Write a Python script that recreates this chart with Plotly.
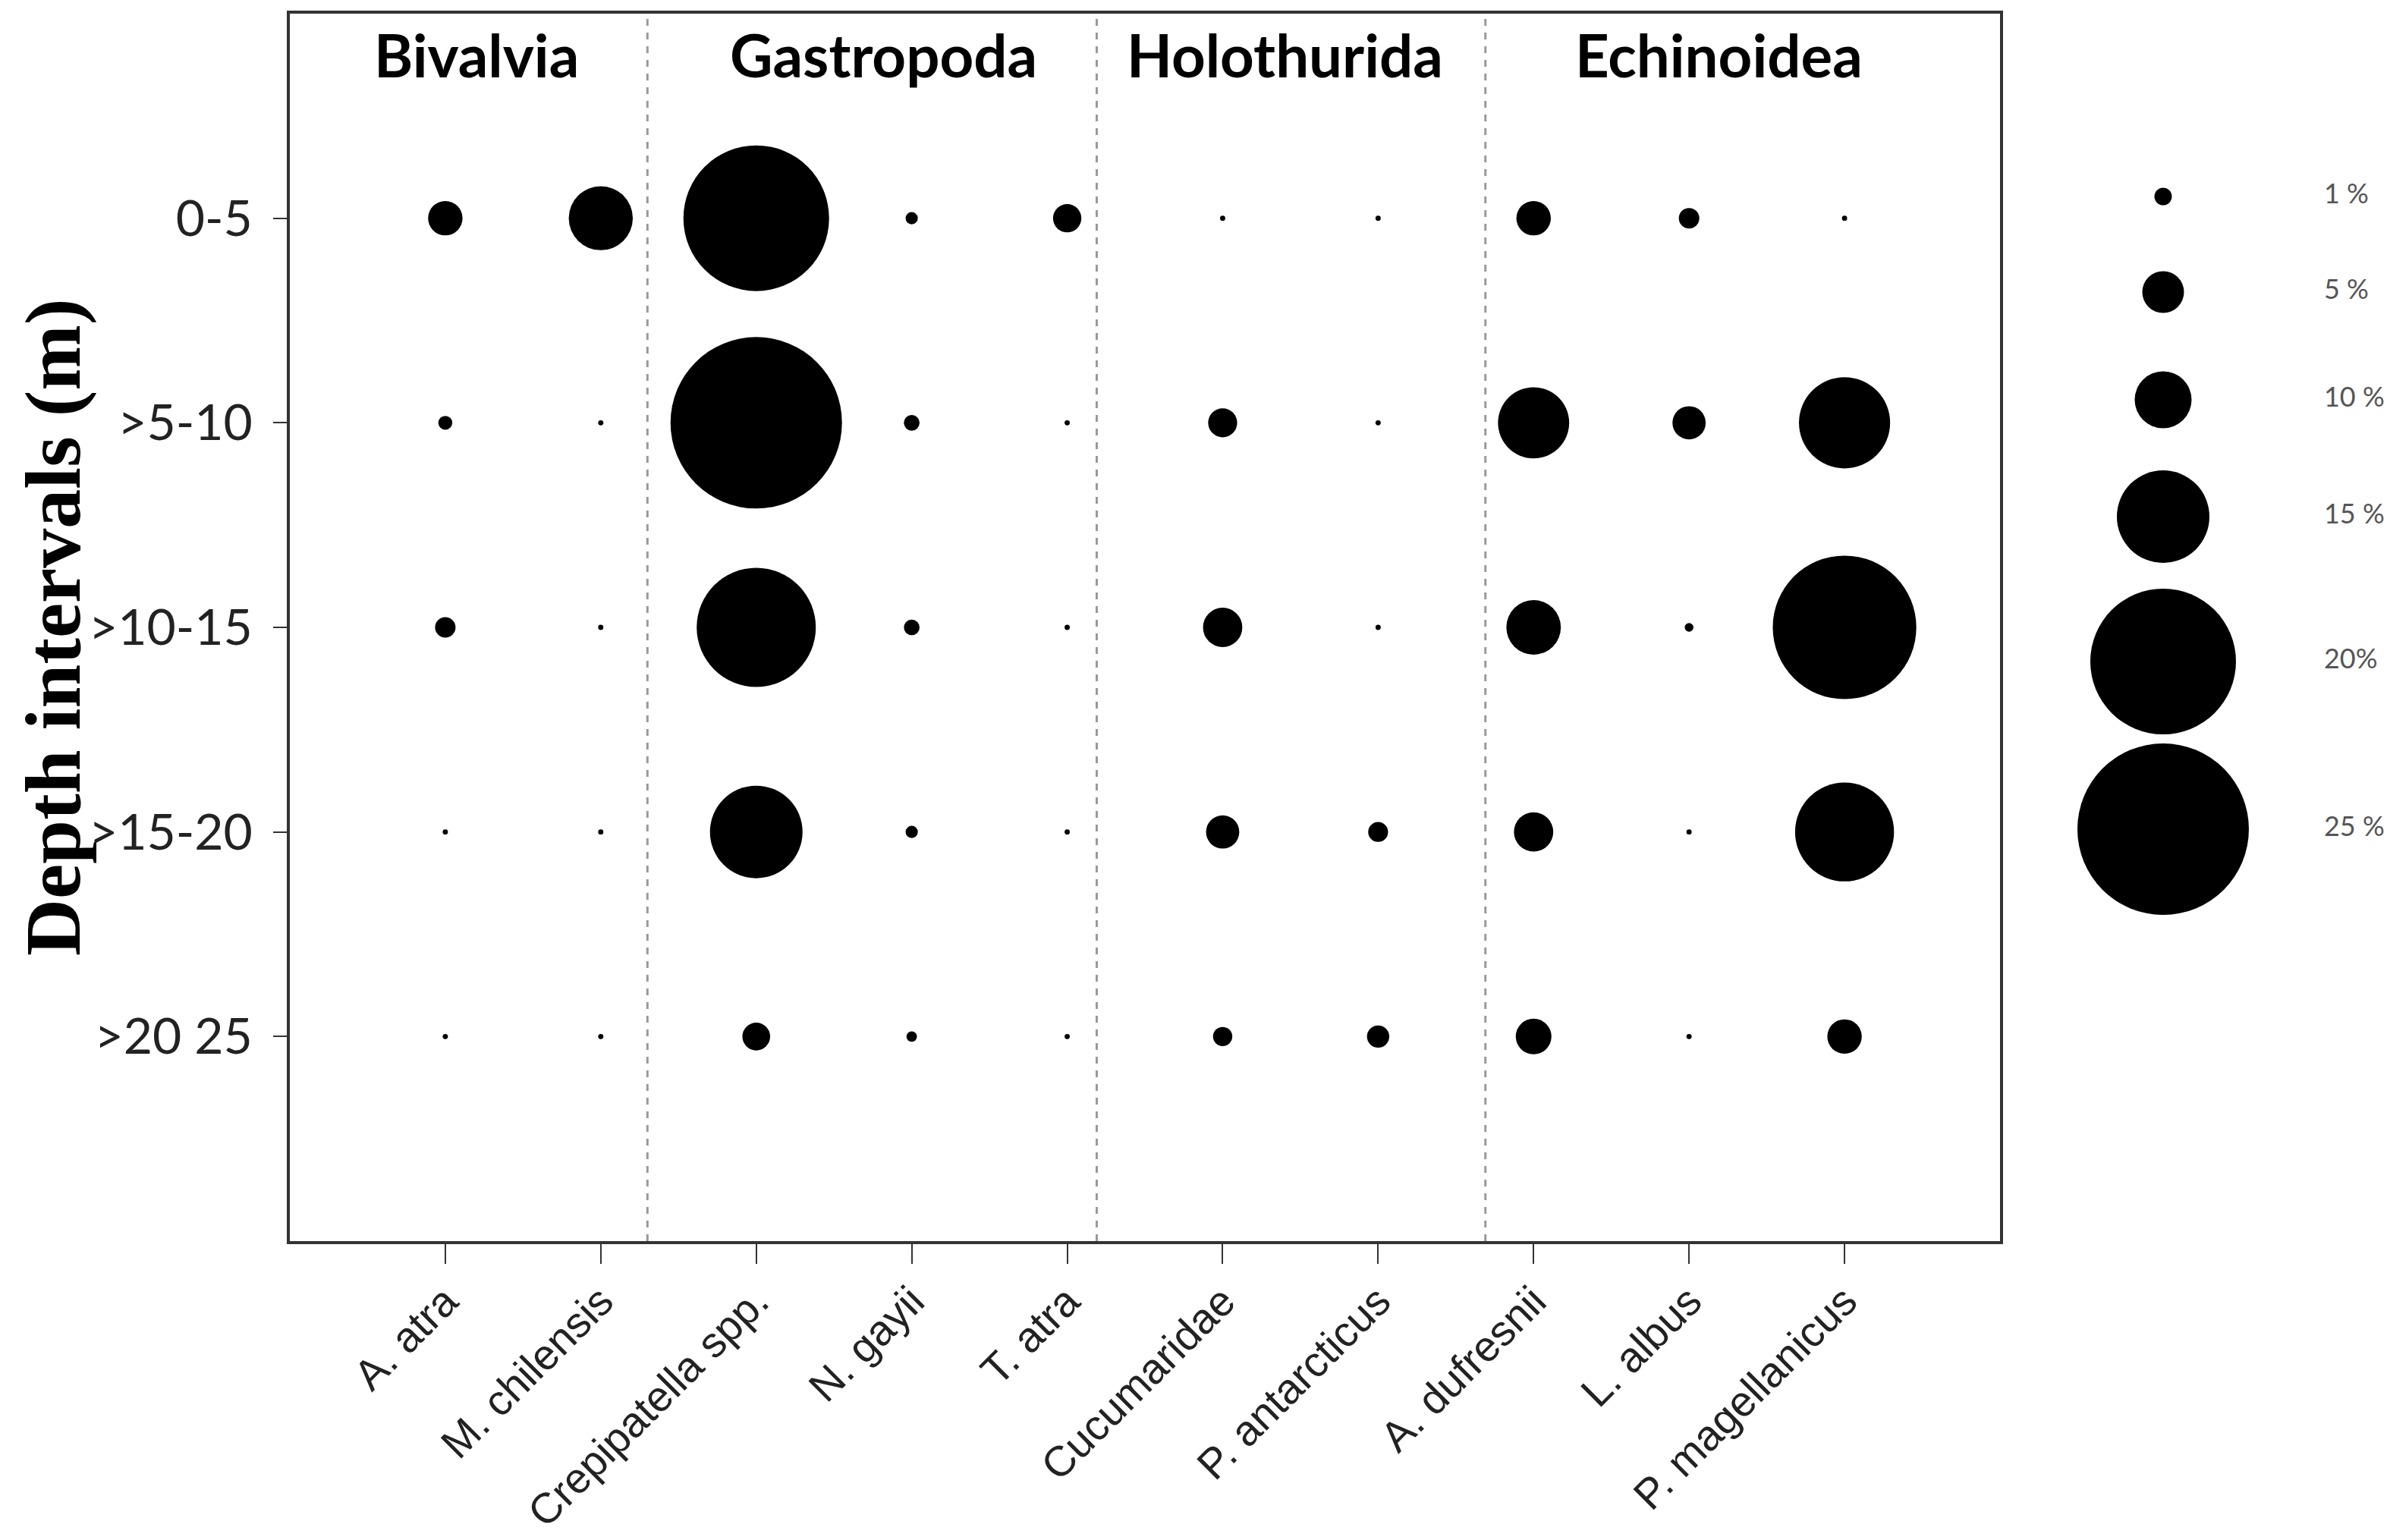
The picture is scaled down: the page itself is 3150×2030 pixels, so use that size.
import numpy as np
import plotly.graph_objects as go

species = ["A. atra", "M. chilensis", "Crepipatella spp.", "N. gayii", "T. atra",
           "Cucumaridae", "P. antarcticus", "A. dufresnii", "L. albus", "P. magellanicus"]
depths = ["0-5", ">5-10", ">10-15", ">15-20", ">20 25"]
groups = ["Bivalvia", "Gastropoda", "Holothurida", "Echinoidea"]

# relative abundance (%) of each taxon per depth interval
pct_0_5 = [3.8, 11.0, 20.0, 0.7, 2.8, 0.3, 0.3, 3.8, 1.5, 0.3]
pct_5_10 = [0.8, 0.3, 25.0, 0.9, 0.3, 2.9, 0.3, 12.0, 3.6, 14.8]
pct_10_15 = [1.5, 0.3, 17.5, 0.9, 0.3, 4.6, 0.3, 9.2, 0.5, 19.8]
pct_15_20 = [0.3, 0.3, 15.0, 0.7, 0.3, 3.6, 1.4, 4.6, 0.3, 15.6]
pct_20_25 = [0.3, 0.3, 2.7, 0.6, 0.3, 1.3, 1.8, 4.0, 0.3, 3.8]

legend_pct = [1, 5, 10, 15, 20, 25]
legend_text = ["1 %", "5 %", "10 %", "15 %", "20%", "25 %"]

# bubble diameter (px) drawn for each legend key; other values interpolated
KEY_DIAM = [23, 55, 75, 122, 192, 226]
LEGEND_Y = [251, 377, 519, 673, 864, 1085]   # pixel rows of the key bubbles
DIVIDERS = [2.3, 5.19, 7.69]
GROUP_X = [1.2, 3.82, 6.4, 9.19]


def bubble_size(values):
    return np.interp(values, [0] + legend_pct, [0] + KEY_DIAM)


W, H = 3150, 2030
L, R, T, B = 374, 0, 10, 402
plot_w = W - L - R
main_end = (2628 - L) / plot_w

fig = go.Figure()

rows = [pct_0_5, pct_5_10, pct_10_15, pct_15_20, pct_20_25]
xs = list(range(1, len(species) + 1))
for i, row in enumerate(rows):
    fig.add_trace(go.Scatter(
        x=xs, y=[i + 1] * len(xs), mode="markers",
        marker=dict(size=bubble_size(row), color="black", opacity=1, line=dict(width=0)),
        showlegend=False, hoverinfo="skip",
    ))

# size key on its own pixel-scaled axes
fig.add_trace(go.Scatter(
    x=[2843] * len(legend_pct), y=LEGEND_Y, mode="markers",
    marker=dict(size=bubble_size(legend_pct), color="black", opacity=1, line=dict(width=0)),
    xaxis="x2", yaxis="y2", showlegend=False, cliponaxis=False,
))
fig.add_trace(go.Scatter(
    x=[3055] * len(legend_pct), y=LEGEND_Y, mode="text", text=legend_text,
    textposition="middle right",
    textfont=dict(family="Lato", size=36, color="#555555"),
    xaxis="x2", yaxis="y2", showlegend=False, cliponaxis=False,
))

for xd in DIVIDERS:
    fig.add_shape(type="line", x0=xd, x1=xd, xref="x", y0=0, y1=1, yref="y domain",
                  line=dict(color="#999999", width=3, dash="dash"))

for gx, name in zip(GROUP_X, groups):
    fig.add_annotation(x=gx, y=0.2, xref="x", yref="y", text="<b>%s</b>" % name,
                       showarrow=False, font=dict(family="Lato", size=78, color="black"))

fig.add_annotation(x=(62 - L) / plot_w, y=0.5, xref="paper", yref="paper",
                   text="<b>Depth intervals (m)</b>", textangle=-90, showarrow=False,
                   xanchor="center", yanchor="middle",
                   font=dict(family="Liberation Serif", size=104, color="black"))

fig.update_layout(
    width=W, height=H,
    margin=dict(l=L, r=R, t=T, b=B, pad=0),
    paper_bgcolor="white", plot_bgcolor="white",
    xaxis=dict(
        domain=[0, main_end], range=[0, 11], tickmode="array",
        tickvals=xs, ticktext=species, tickangle=-45,
        tickfont=dict(family="Liberation Sans", size=56, color="#222222"),
        ticks="outside", ticklen=26, tickwidth=2, tickcolor="#333333",
        ticklabelstandoff=-6,
        showline=True, linecolor="#333333", linewidth=4, mirror=True,
        showgrid=False, zeroline=False, automargin=False,
    ),
    yaxis=dict(
        range=[6, 0], tickmode="array", tickvals=list(range(1, 6)), ticktext=depths,
        tickfont=dict(family="Lato", size=66, color="#222222"),
        ticks="outside", ticklen=18, tickwidth=2, tickcolor="#333333",
        ticklabelstandoff=14,
        showline=True, linecolor="#333333", linewidth=4, mirror=True,
        showgrid=False, zeroline=False, automargin=False,
    ),
    xaxis2=dict(domain=[main_end + 0.005, 1], range=[L + (main_end + 0.005) * plot_w, W],
                visible=False, anchor="y2"),
    yaxis2=dict(domain=[0, 1], range=[H - B, T], visible=False, anchor="x2"),
)

fig.write_html("out.html")
